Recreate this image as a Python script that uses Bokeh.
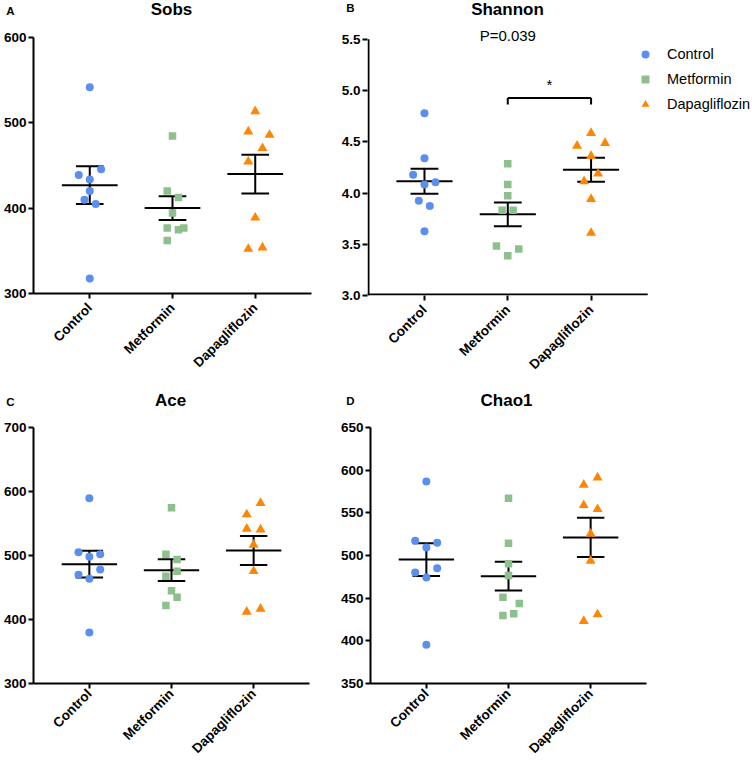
import numpy as np
from math import pi
from bokeh.plotting import figure
from bokeh.layouts import column, row
from bokeh.models import FixedTicker, Label, Legend, LegendItem, PrintfTickFormatter, Range1d
from bokeh.embed import file_html
from bokeh.resources import INLINE

# ---------------- data ----------------
groups = ["Control", "Metformin", "Dapagliflozin"]
group_pos = [1, 2, 3]

sobs_control = [541.6, 445.7, 439.0, 433.6, 420.0, 409.9, 404.8, 317.5]
sobs_metformin = [484.7, 420.0, 412.6, 394.3, 376.8, 374.8, 376.8, 362.0]
sobs_dapagliflozin = [513.5, 489.7, 485.8, 470.3, 454.7, 388.8, 352.2, 353.8]
sobs_mean = [427.0, 400.1, 439.9]
sobs_sem = [22.0, 14.0, 22.8]

shannon_control = [4.779, 4.338, 4.179, 4.084, 4.104, 3.925, 3.873, 3.627]
shannon_metformin = [4.286, 4.084, 3.974, 3.831, 3.831, 3.484, 3.454, 3.389]
shannon_dapagliflozin = [4.584, 4.461, 4.487, 4.360, 4.188, 4.114, 3.941, 3.610]
shannon_mean = [4.114, 3.792, 4.227]
shannon_sem = [0.122, 0.116, 0.117]
shannon_p_text = "P=0.039"
shannon_p_y = 5.539
shannon_sig_text = "*"
shannon_sig_y = 5.061
shannon_bracket_y = 4.928
shannon_bracket_leg = 4.863

ace_control = [589.6, 505.2, 502.1, 497.9, 478.1, 469.8, 463.6, 379.7]
ace_metformin = [574.5, 502.1, 493.8, 475.5, 467.7, 444.8, 434.9, 421.9]
ace_dapagliflozin = [581.8, 564.1, 541.7, 540.6, 516.7, 475.5, 412.0, 416.7]
ace_mean = [486.5, 477.1, 507.8]
ace_sem = [20.9, 17.0, 22.7]

chao1_control = [586.7, 517.2, 514.9, 509.4, 485.2, 480.1, 474.2, 395.3]
chao1_metformin = [567.2, 514.5, 490.2, 476.6, 451.2, 443.8, 429.7, 431.7]
chao1_dapagliflozin = [591.4, 582.8, 559.0, 554.3, 525.4, 493.8, 430.9, 423.1]
chao1_mean = [495.3, 475.8, 521.1]
chao1_sem = [19.2, 16.8, 23.0]

sobs_ticks = [300, 400, 500, 600]
shannon_ticks = [3.0, 3.5, 4.0, 4.5, 5.0, 5.5]
ace_ticks = [300, 400, 500, 600, 700]
chao1_ticks = [350, 400, 450, 500, 550, 600, 650]

panel_titles = ["Sobs", "Shannon", "Ace", "Chao1"]
panel_letters = ["A", "B", "C", "D"]

# horizontal scatter offsets of the dots within each group (layout)
sobs_jit = [[0, .137, -.133, 0, 0, -.064, .072, 0],
            [0, -.064, .072, 0, -.064, .072, .137, -.064],
            [0, -.084, .173, .088, -.084, 0, -.084, .088]]
shannon_jit = [[0, 0, -.136, 0, .132, -.068, .064, 0],
               [0, 0, 0, -.068, .064, -.136, .132, 0],
               [0, -.168, .168, 0, .084, -.084, 0, 0]]
ace_jit = [[0, -.132, .132, 0, .132, -.132, 0, 0],
           [0, -.068, .068, .068, -.068, 0, .068, -.068],
           [.084, -.084, -.084, .084, 0, 0, -.084, .084]]
chao1_jit = [[0, -.136, .132, 0, .132, -.136, 0, 0],
             [0, 0, 0, 0, -.068, .132, -.068, .064],
             [.084, -.084, -.084, .084, 0, 0, .084, -.084]]

# ---------------- style ----------------
FONT = "Liberation Sans"
colors = ["#5B8FEE", "#8EC08E", "#FF8505"]
markers = ["circle", "square", "triangle"]
msizes = [8, 7.5, 10]
X0, X1 = 0.32, 3.68


def panel(vals, jits, means, sems, yr, ticks, fmt, w, h, bl, fw, bt, fh, xstand,
          xr=None, yr_view=None):
    br = w - bl - fw
    bb = h - bt - fh
    xr = xr or (X0, X1)
    yv = yr_view or yr
    p = figure(width=w, height=h, x_range=Range1d(*xr), y_range=Range1d(*yv),
               output_backend="svg", toolbar_location=None, title=None,
               min_border_left=bl, min_border_right=br,
               min_border_top=bt, min_border_bottom=bb)
    try:
        p.frame_align = False
    except Exception:
        pass
    p.grid.visible = False
    p.outline_line_color = None
    p.background_fill_color = "white"
    p.border_fill_color = "white"

    gx = np.array(group_pos, dtype=float)
    m = np.array(means)
    s = np.array(sems)
    kw = dict(line_color="black", line_width=2)
    p.segment(gx - 0.337, m, gx + 0.337, m, **kw)
    p.segment(gx - 0.167, m + s, gx + 0.167, m + s, **kw)
    p.segment(gx - 0.167, m - s, gx + 0.167, m - s, **kw)
    p.segment(gx, m - s, gx, m + s, **kw)

    rs = []
    for i in range(3):
        xs = [group_pos[i] + j for j in jits[i]]
        r = p.scatter(xs, vals[i], marker=markers[i], size=msizes[i],
                      fill_color=colors[i], line_color=None)
        rs.append(r)

    for ax in (p.xaxis[0], p.yaxis[0]):
        ax.axis_line_width = 2
        ax.axis_line_color = "black"
        ax.major_tick_line_width = 2
        ax.major_tick_line_color = "black"
        ax.major_tick_out = 5
        ax.major_tick_in = 0
        ax.minor_tick_out = 0
        ax.minor_tick_in = 0
        ax.major_label_text_font = FONT
        ax.major_label_text_font_style = "bold"
        ax.major_label_text_font_size = "13.5px"
        ax.major_label_text_color = "black"

    xa = p.xaxis[0]
    xa.ticker = FixedTicker(ticks=group_pos)
    xa.major_label_overrides = {k: g for k, g in zip(group_pos, groups)}
    xa.major_label_orientation = pi / 4
    xa.major_label_standoff = xstand

    ya = p.yaxis[0]
    ya.ticker = FixedTicker(ticks=ticks)
    ya.major_label_standoff = 2
    if fmt:
        ya.formatter = PrintfTickFormatter(format=fmt)

    if xr != (X0, X1) or yv != yr:
        # the view is wider than the axes' extent: draw the axis lines only over it
        xa.axis_line_color = None
        ya.axis_line_color = None
        px_x = (xr[1] - xr[0]) / fw
        px_y = (yv[1] - yv[0]) / fh
        p.segment([xr[0]], [yr[0] + px_y], [X1], [yr[0] + px_y], **kw)
        p.segment([xr[0] + px_x], [yr[0]], [xr[0] + px_x], [yr[1]], **kw)
    return p, rs


def header(h, items):
    p = figure(width=752, height=h, x_range=Range1d(0, 752), y_range=Range1d(h, 0),
               x_axis_type=None, y_axis_type=None, output_backend="svg",
               toolbar_location=None, title=None, min_border=0, min_border_left=0,
               min_border_right=0, min_border_top=0, min_border_bottom=0)
    p.outline_line_color = None
    p.grid.visible = False
    for txt, x, y, size in items:
        p.add_layout(Label(x=x, y=y, text=txt, text_font=FONT, text_font_style="bold",
                           text_font_size=size, text_align="center",
                           text_baseline="middle", text_color="black"))
    return p


# header rows with panel letters and titles
h1 = header(20, [(panel_letters[0], 10, 10.5, "11.5px"), (panel_titles[0], 171, 9.3, "17px"),
                 (panel_letters[1], 350, 7.5, "11.5px"), (panel_titles[1], 507, 9, "17px")])
h2 = header(19, [(panel_letters[2], 10, 9.7, "11.5px"), (panel_titles[2], 170, 8.3, "17px"),
                 (panel_letters[3], 350, 8, "11.5px"), (panel_titles[3], 506, 8.3, "17px")])

pA, _ = panel([sobs_control, sobs_metformin, sobs_dapagliflozin], sobs_jit,
              sobs_mean, sobs_sem, (300, 600), sobs_ticks, None,
              337, 372, 32, 279, 17, 256, 7)
# Shannon: the view extends right (legend) and up (P value) past the axes
B_FW, B_FH = 385, 270
b_xr = (0.316, 0.316 + B_FW / 83.3)
b_yv = (3.0, 3.0 + B_FH / 102.5)
pB, rsB = panel([shannon_control, shannon_metformin, shannon_dapagliflozin],
                shannon_jit, shannon_mean, shannon_sem, (3.0, 5.5), shannon_ticks, "%.1f",
                415, 372, 30, B_FW, 5, B_FH, 7, xr=b_xr, yr_view=b_yv)
pC, _ = panel([ace_control, ace_metformin, ace_dapagliflozin], ace_jit,
              ace_mean, ace_sem, (300, 700), ace_ticks, None,
              337, 353, 31, 278, 16, 256, 3)
pD, _ = panel([chao1_control, chao1_metformin, chao1_dapagliflozin], chao1_jit,
              chao1_mean, chao1_sem, (350, 650), chao1_ticks, None,
              415, 353, 30, 279, 16, 256, 3)

# significance annotation on Shannon
kw = dict(line_color="black", line_width=2)
pB.segment([group_pos[1]], [shannon_bracket_y], [group_pos[2]], [shannon_bracket_y], **kw)
pB.segment([group_pos[1], group_pos[2]], [shannon_bracket_y] * 2,
           [group_pos[1], group_pos[2]], [shannon_bracket_leg] * 2, **kw)
pB.add_layout(Label(x=(group_pos[1] + group_pos[2]) / 2, y=shannon_sig_y,
                    text=shannon_sig_text, text_font=FONT, text_font_size="15px",
                    text_align="center", text_baseline="middle", text_color="black"))
pB.add_layout(Label(x=group_pos[1], y=shannon_p_y,
                    text=shannon_p_text, text_font=FONT, text_font_size="15px",
                    text_align="center", text_baseline="middle", text_color="black"))

legend = Legend(items=[LegendItem(label=g, renderers=[r]) for g, r in zip(groups, rsB)],
                location=(268, 181), glyph_width=20, glyph_height=20, label_standoff=12,
                spacing=5, padding=5, margin=0, border_line_color=None,
                background_fill_alpha=0, label_text_font=FONT,
                label_text_font_size="14.5px", label_height=20, label_text_color="black")
pB.add_layout(legend)

layout = column(h1, row(pA, pB), h2, row(pC, pD))
open("out.html", "w").write(file_html(layout, INLINE))
